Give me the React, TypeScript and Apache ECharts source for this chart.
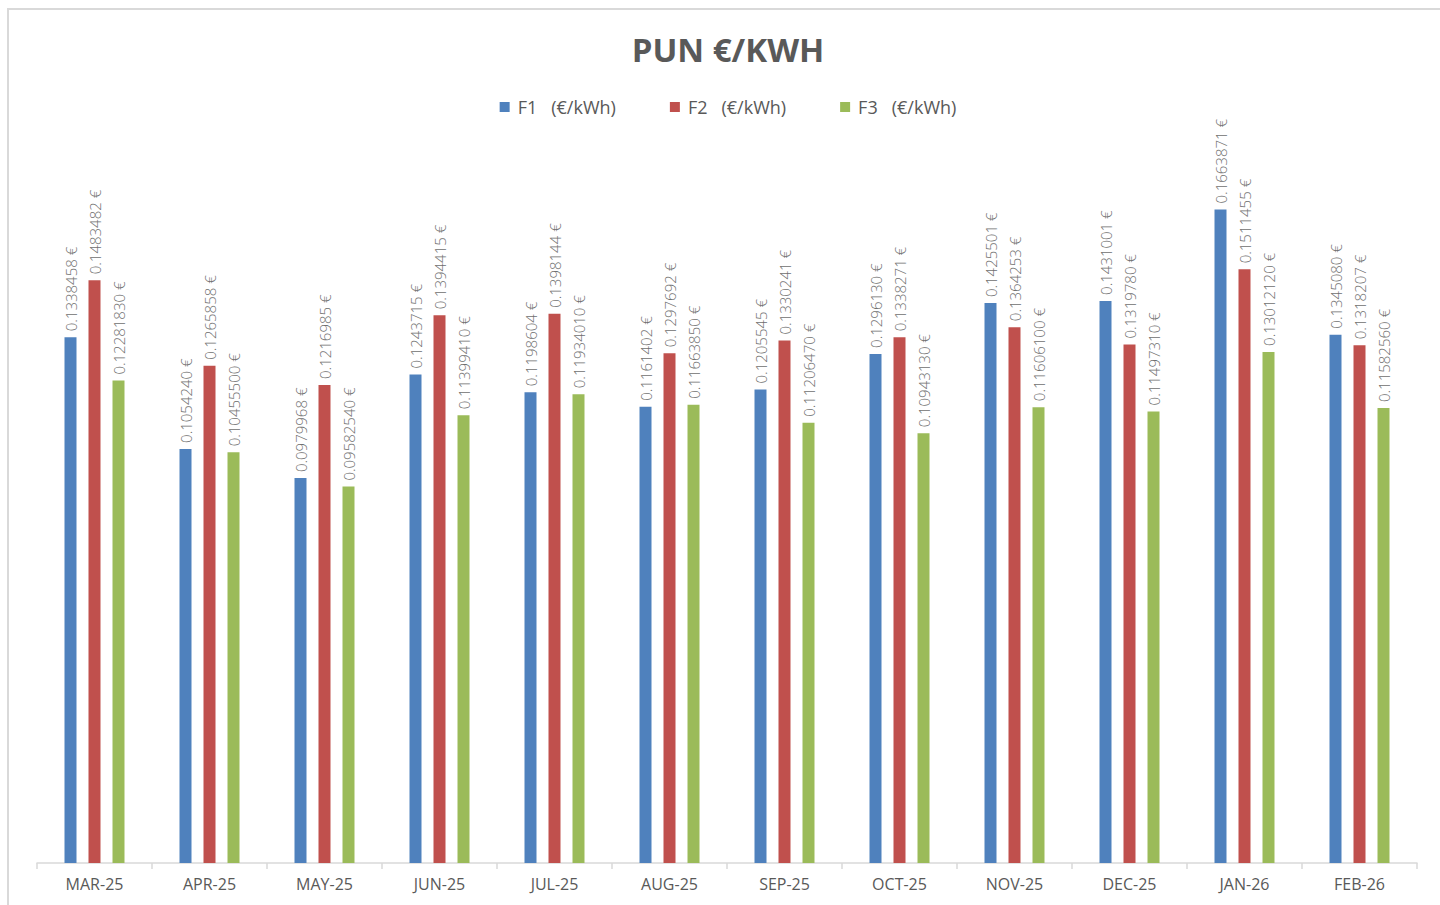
import React, { useEffect, useRef } from "react";
import * as echarts from "echarts";

const categories = ["MAR-25", "APR-25", "MAY-25", "JUN-25", "JUL-25", "AUG-25", "SEP-25", "OCT-25", "NOV-25", "DEC-25", "JAN-26", "FEB-26"];
const f1Values = [0.1338458, 0.105424, 0.0979968, 0.1243715, 0.1198604, 0.1161402, 0.1205545, 0.129613, 0.1425501, 0.1431001, 0.1663871, 0.134508];
const f2Values = [0.1483482, 0.1265858, 0.1216985, 0.1394415, 0.1398144, 0.1297692, 0.1330241, 0.1338271, 0.1364253, 0.131978, 0.1511455, 0.1318207];
const f3Values = [0.1228183, 0.104555, 0.0958254, 0.1139941, 0.1193401, 0.1166385, 0.1120647, 0.1094313, 0.116061, 0.1149731, 0.1301212, 0.1158256];
const seriesNames = ["F1   (€/kWh)", "F2   (€/kWh)", "F3   (€/kWh)"];
const labelDecimals = [7, 7, 8];
const colors = ["#4f81bd", "#c0504d", "#9bbb59"];

const FONT = "'Open Sans', 'DejaVu Sans', sans-serif";

export default function App() {
  const ref = useRef<HTMLDivElement>(null);
  useEffect(() => {
    if (!ref.current) return;
    const chart = echarts.init(ref.current, null, { renderer: "svg" });
    const data = [f1Values, f2Values, f3Values];
    chart.setOption({
      animation: false,
      backgroundColor: "#ffffff",
      color: colors,
      title: {
        text: "PUN €/KWH",
        left: "center",
        top: 28,
        textStyle: { fontFamily: FONT, fontWeight: "bold", fontSize: 33, color: "#595959" },
      },
      legend: {
        top: 93,
        left: "center",
        itemWidth: 10,
        itemHeight: 10,
        itemGap: 54,
        icon: "rect",
        textStyle: { fontFamily: FONT, fontSize: 18, color: "#595959", padding: [0, 0, 0, 3] },
        data: seriesNames,
      },
      graphic: [
        {
          type: "rect",
          shape: { x: 8, y: 9, width: 1500, height: 1000 },
          style: { fill: "none", stroke: "#d9d9d9", lineWidth: 2 },
          silent: true,
        },
      ],
      grid: { left: 37, right: 39, top: 156, bottom: 42 },
      xAxis: {
        type: "category",
        data: categories,
        axisLine: { lineStyle: { color: "#d9d9d9", width: 1.5 } },
        axisTick: { show: true, length: 6, lineStyle: { color: "#d9d9d9", width: 1.5 } },
        axisLabel: { fontFamily: FONT, fontSize: 16, color: "#595959", margin: 13 },
      },
      yAxis: {
        type: "value",
        min: 0,
        max: 0.18,
        show: false,
        splitLine: { show: false },
      },
      series: data.map((vals, i) => ({
        name: seriesNames[i],
        type: "bar",
        data: vals,
        barWidth: 12,
        barGap: "100%",
        itemStyle: { color: colors[i] },
        label: {
          show: true,
          position: "top",
          rotate: 90,
          align: "left",
          verticalAlign: "middle",
          distance: 6,
          fontFamily: FONT,
          fontSize: 15,
          fontWeight: 300,
          color: "#6f6f6f",
          formatter: (p: any) => Number(p.value).toFixed(labelDecimals[i]) + " €",
        },
      })),
    });
    return () => chart.dispose();
  }, []);
  return <div ref={ref} style={{ position: "fixed", left: 0, top: 0, width: 1456, height: 905 }} />;
}
